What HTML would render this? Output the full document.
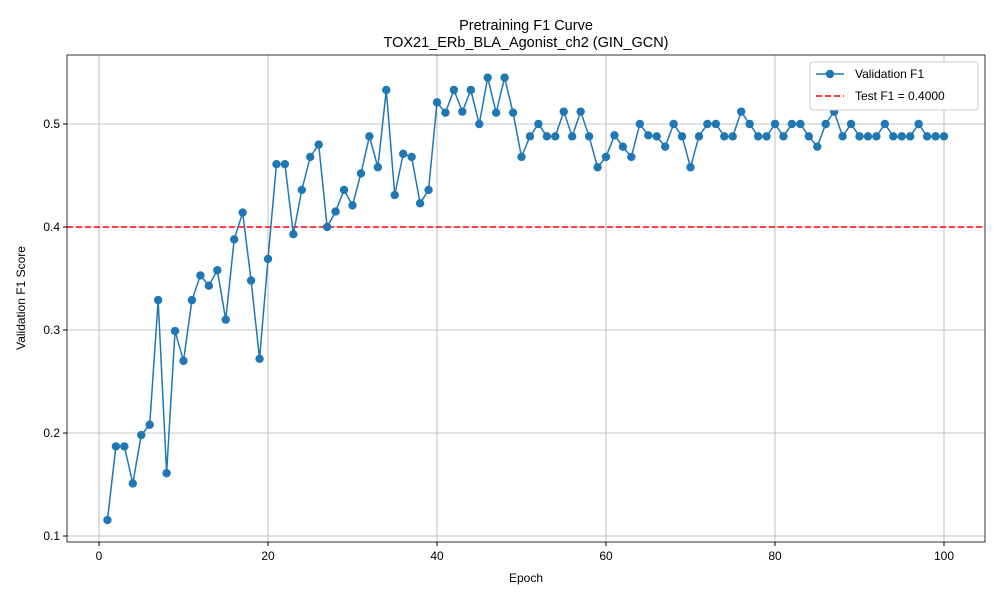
<!DOCTYPE html>
<html><head><meta charset="utf-8"><style>
body{margin:0;background:#fff;font-family:"Liberation Sans",sans-serif}
svg text{font-family:"Liberation Sans",sans-serif;fill:#000}
</style></head><body>
<svg id="chart" width="1000" height="600"></svg>
<script>
const epochs=[];for(let i=1;i<=100;i++)epochs.push(i);
const f1Values=[0.1155,0.187,0.187,0.151,0.198,0.208,0.329,0.161,0.299,0.270,
0.329,0.353,0.343,0.358,0.310,0.388,0.414,0.348,0.272,0.369,
0.461,0.461,0.393,0.436,0.468,0.480,0.400,0.415,0.436,0.421,
0.452,0.488,0.458,0.533,0.431,0.471,0.468,0.423,0.436,0.521,
0.511,0.533,0.512,0.533,0.500,0.545,0.511,0.545,0.511,0.468,
0.488,0.500,0.488,0.488,0.512,0.488,0.512,0.488,0.458,0.468,
0.489,0.478,0.468,0.500,0.489,0.488,0.478,0.500,0.488,0.458,
0.488,0.500,0.500,0.488,0.488,0.512,0.500,0.488,0.488,0.500,
0.488,0.500,0.500,0.488,0.478,0.500,0.512,0.488,0.500,0.488,
0.488,0.488,0.500,0.488,0.488,0.488,0.500,0.488,0.488,0.488];
const testF1=0.4;
const xTicks=[0,20,40,60,80,100];
const yTicks=[0.1,0.2,0.3,0.4,0.5];
const L=67,R=985,T=55,B=542;
const xs=v=>99+(v)*8.45;
const ys=v=>536-(v-0.1)*1030;
const svg=document.getElementById('chart');const NS='http://www.w3.org/2000/svg';
function mk(t,a,p){const e=document.createElementNS(NS,t);for(const k in a)e.setAttribute(k,a[k]);(p||svg).appendChild(e);return e;}
let e;
xTicks.forEach(t=>{const x=xs(t);
e=mk('line',{x1:x,x2:x,y1:T,y2:B,stroke:'#b0b0b0','stroke-width':0.8});

mk('line',{x1:x,x2:x,y1:B,y2:B+4,stroke:'#000'});
e=mk('text',{x:x,y:B+18,'text-anchor':'middle','font-size':12});e.textContent=t;
});
yTicks.forEach(t=>{const y=ys(t);
e=mk('line',{x1:L,x2:R,y1:y,y2:y,stroke:'#b0b0b0','stroke-width':0.8});

mk('line',{x1:L-4,x2:L,y1:y,y2:y,stroke:'#000'});
e=mk('text',{x:L-7,y:y+4,'text-anchor':'end','font-size':12});e.textContent=t.toFixed(1);
});
e=mk('line',{x1:L,x2:R,y1:ys(testF1),y2:ys(testF1),stroke:'#ff0000','stroke-width':1.5,'stroke-dasharray':'6,3'});

e=mk('polyline',{points:epochs.map((d,i)=>xs(d)+','+ys(f1Values[i])).join(' '),fill:'none',stroke:'#1f77b4','stroke-width':1.5});

epochs.forEach((d,i)=>{e=mk('circle',{cx:xs(d),cy:ys(f1Values[i]),r:4.2,fill:'#1f77b4'});
});
e=mk('rect',{x:L,y:T,width:R-L,height:B-T,fill:'none',stroke:'#000','stroke-width':0.8});

e=mk('text',{x:526,y:30,'text-anchor':'middle','font-size':14.5});e.textContent='Pretraining F1 Curve';

e=mk('text',{x:526,y:47,'text-anchor':'middle','font-size':14.5});e.textContent='TOX21_ERb_BLA_Agonist_ch2 (GIN_GCN)';

e=mk('text',{x:526,y:582,'text-anchor':'middle','font-size':12});e.textContent='Epoch';

e=mk('text',{x:25,y:298,'text-anchor':'middle','font-size':12,transform:'rotate(-90 25 298)'});e.textContent='Validation F1 Score';

const g=mk('g',{});
mk('rect',{x:810,y:62,width:168,height:48,fill:'#fff',stroke:'#ccc',rx:3},g);
mk('line',{x1:816,x2:844,y1:74,y2:74,stroke:'#1f77b4','stroke-width':1.5},g);
mk('circle',{cx:830,cy:74,r:4.2,fill:'#1f77b4'},g);
e=mk('text',{x:855,y:78,'font-size':12},g);e.textContent='Validation F1';

mk('line',{x1:816,x2:844,y1:96,y2:96,stroke:'#ff0000','stroke-width':1.5,'stroke-dasharray':'6,3'},g);
e=mk('text',{x:855,y:100,'font-size':12},g);e.textContent='Test F1 = 0.4000';

</script>
</body></html>
